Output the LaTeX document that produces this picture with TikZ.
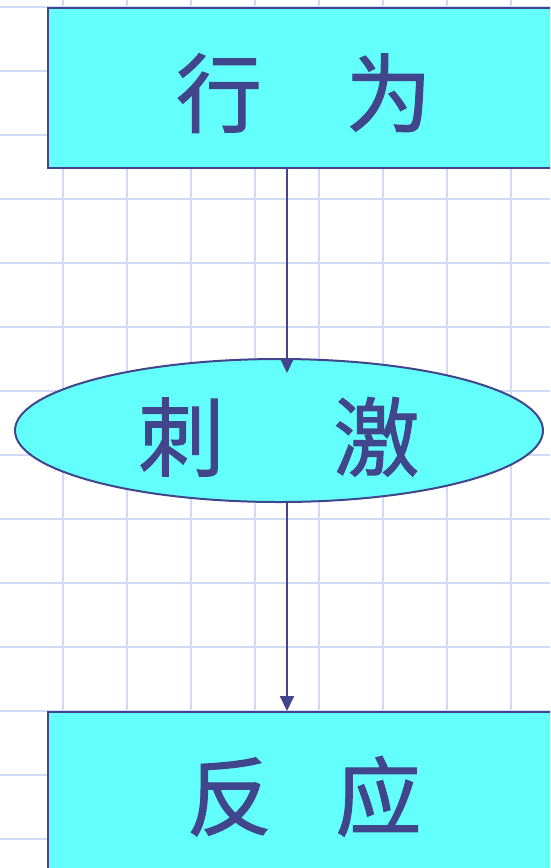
\documentclass[tikz,border=0pt]{standalone}
\usepackage{fontspec}
\newfontfamily\cjk{Noto Sans CJK SC}[FakeBold=1.2]
\usetikzlibrary{shapes.geometric,arrows.meta}
\definecolor{gridc}{HTML}{D2DAF8}
\definecolor{boxfill}{HTML}{63FFFA}
\definecolor{ink}{HTML}{40458C}
\newcommand{\lowered}[2]{\raisebox{#1}[0pt][0pt]{#2}}
\begin{document}
\begin{tikzpicture}[x=1pt,y=-1pt,
  gridline/.style={draw=gridc,line width=2pt},
  box/.style={draw=ink,fill=boxfill,line width=2pt,rectangle,inner sep=0pt,
    text=ink,font=\cjk\fontsize{86}{86}\selectfont},
  oval/.style={box,ellipse},
  link/.style={draw=ink,line width=2pt,-{Triangle[length=15pt,width=14pt]}}]
\useasboundingbox (0,0) rectangle (550,868);
\clip (0,0) rectangle (550,868);
\foreach \x in {-1,63,...,511} \draw[gridline] (\x,0) -- (\x,868);
\foreach \y in {6.5,70.5,...,838.5} \draw[gridline] (0,\y) -- (550,\y);
\node[box,anchor=north west,minimum width=513,minimum height=159.5] (beh) at (46.5,7)
  {\lowered{-38pt}{行\hspace{84pt}为}};
\node[oval,minimum width=528,minimum height=143] (stim) at (279,430.5)
  {\lowered{-39pt}{刺\hspace{109pt}激}};
\node[box,anchor=north west,minimum width=513,minimum height=172] (resp) at (46.5,711)
  {\lowered{-31pt}{反\hspace{63pt}应}};
\coordinate (t1) at (287,373);
\coordinate (t2) at (287,600);
\draw[link] (beh.south -| t1) -- (t1);
\draw[link] (stim.south -| t2) -- (resp.north -| t2);
\end{tikzpicture}
\end{document}
